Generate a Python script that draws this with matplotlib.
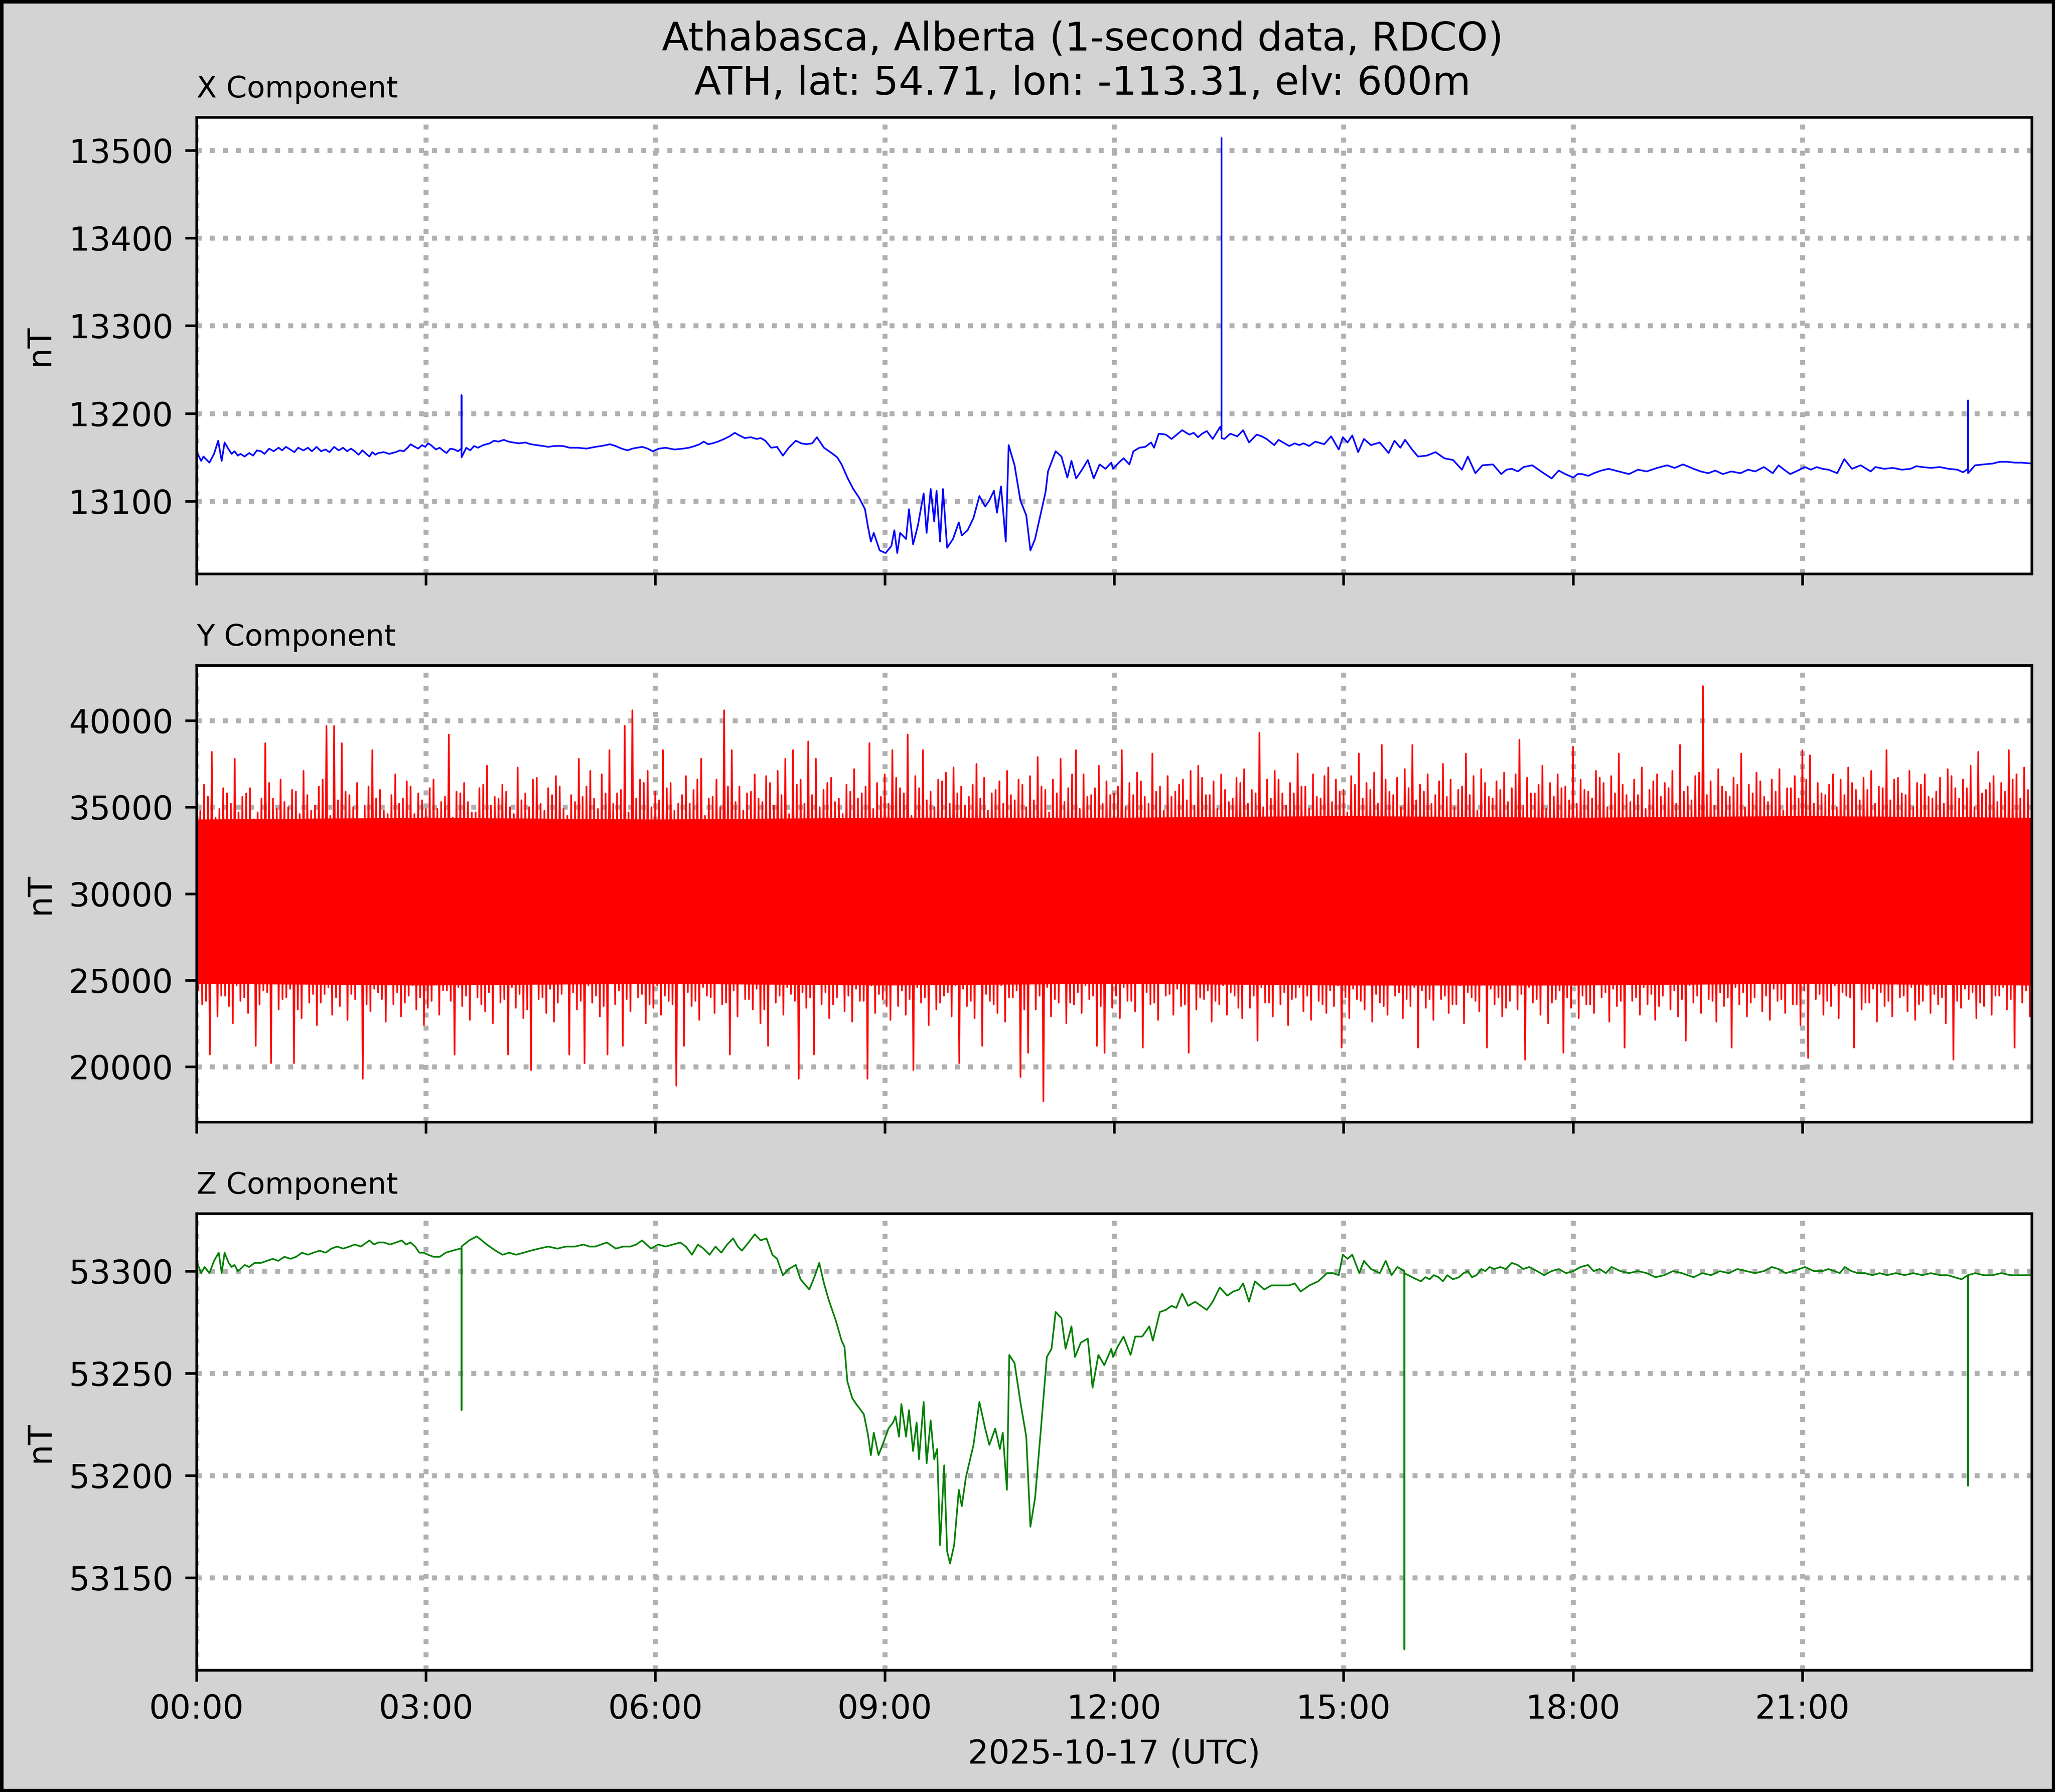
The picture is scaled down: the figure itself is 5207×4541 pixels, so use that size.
import numpy as np
import matplotlib
matplotlib.use("Agg")
import matplotlib.pyplot as plt
import matplotlib.dates as mdates

DATE = "2025-10-17"
TITLE_1 = "Athabasca, Alberta (1-second data, RDCO)"
TITLE_2 = "ATH, lat: 54.71, lon: -113.31, elv: 600m"
PANEL_TITLES = ["X Component", "Y Component", "Z Component"]
X_LABEL = DATE + " (UTC)"
Y_LABEL = "nT"

# ---------------- X component: (hour UTC, nT) ----------------
x_points = [
    (0.000, 13157), (0.061, 13146), (0.092, 13151), (0.169, 13144), (0.230, 13154),
    (0.284, 13169), (0.330, 13146), (0.368, 13167), (0.422, 13159), (0.460, 13154),
    (0.498, 13157), (0.540, 13152), (0.575, 13154), (0.630, 13151), (0.690, 13155),
    (0.740, 13152), (0.790, 13158), (0.844, 13157), (0.890, 13154), (0.950, 13160),
    (1.010, 13157), (1.074, 13161), (1.120, 13158), (1.170, 13162), (1.227, 13159),
    (1.280, 13156), (1.330, 13161), (1.400, 13158), (1.457, 13161), (1.510, 13157),
    (1.570, 13162), (1.630, 13157), (1.687, 13159), (1.740, 13156), (1.800, 13162),
    (1.860, 13158), (1.917, 13161), (1.970, 13157), (2.020, 13160), (2.071, 13157),
    (2.120, 13153), (2.170, 13158), (2.220, 13154), (2.262, 13151), (2.300, 13156),
    (2.340, 13153), (2.377, 13155), (2.450, 13156), (2.520, 13154), (2.607, 13156),
    (2.660, 13158), (2.710, 13157), (2.761, 13161), (2.800, 13165), (2.837, 13163),
    (2.900, 13160), (2.950, 13164), (2.991, 13162), (3.030, 13166), (3.067, 13164),
    (3.130, 13159), (3.180, 13161), (3.221, 13158), (3.270, 13155), (3.320, 13160),
    (3.374, 13159), (3.420, 13157), (3.4655, 13160), (3.466, 13221), (3.4665, 13150),
    (3.528, 13161), (3.580, 13158), (3.630, 13163), (3.681, 13161), (3.750, 13164),
    (3.834, 13166), (3.890, 13169), (3.949, 13168), (4.020, 13170), (4.080, 13168),
    (4.141, 13167), (4.220, 13166), (4.300, 13167), (4.371, 13165), (4.450, 13164),
    (4.530, 13163), (4.601, 13162), (4.680, 13163), (4.793, 13163), (4.880, 13161),
    (4.985, 13161), (5.100, 13160), (5.215, 13162), (5.300, 13163), (5.406, 13165),
    (5.480, 13163), (5.560, 13160), (5.637, 13158), (5.700, 13160), (5.828, 13162),
    (5.900, 13160), (5.966, 13157), (6.050, 13160), (6.135, 13161), (6.250, 13159),
    (6.365, 13160), (6.440, 13161), (6.518, 13163), (6.580, 13165), (6.633, 13168),
    (6.690, 13165), (6.748, 13166), (6.820, 13168), (6.902, 13171), (6.970, 13174),
    (7.040, 13178), (7.100, 13175), (7.170, 13172), (7.250, 13173), (7.324, 13171),
    (7.380, 13172), (7.439, 13169), (7.515, 13161), (7.592, 13162), (7.669, 13152),
    (7.745, 13161), (7.837, 13169), (7.910, 13166), (7.975, 13165), (8.052, 13166),
    (8.113, 13173), (8.206, 13161), (8.321, 13154), (8.380, 13150), (8.436, 13142),
    (8.512, 13127), (8.589, 13114), (8.666, 13104), (8.742, 13091), (8.781, 13071),
    (8.819, 13054), (8.857, 13064), (8.934, 13044), (9.011, 13041), (9.087, 13049),
    (9.126, 13067), (9.164, 13041), (9.202, 13064), (9.279, 13057), (9.317, 13091),
    (9.371, 13051), (9.433, 13072), (9.509, 13109), (9.548, 13064), (9.601, 13114),
    (9.647, 13077), (9.678, 13112), (9.724, 13054), (9.762, 13114), (9.816, 13047),
    (9.893, 13057), (9.969, 13076), (10.008, 13061), (10.084, 13067), (10.161, 13081),
    (10.238, 13106), (10.314, 13094), (10.368, 13101), (10.429, 13112), (10.468, 13087),
    (10.521, 13117), (10.583, 13054), (10.621, 13164), (10.698, 13141), (10.774, 13101),
    (10.851, 13084), (10.905, 13044), (10.966, 13057), (11.043, 13087), (11.104, 13111),
    (11.135, 13134), (11.235, 13157), (11.311, 13151), (11.388, 13127), (11.442, 13146),
    (11.503, 13126), (11.580, 13136), (11.656, 13147), (11.733, 13126), (11.810, 13142),
    (11.887, 13137), (11.963, 13144),
    (11.985, 13137), (12.062, 13144), (12.123, 13149), (12.200, 13142), (12.253, 13157),
    (12.330, 13161), (12.407, 13162), (12.483, 13167), (12.522, 13161), (12.583, 13177),
    (12.675, 13176), (12.752, 13171), (12.820, 13176), (12.890, 13181), (12.982, 13176),
    (13.040, 13178), (13.097, 13173), (13.150, 13177), (13.212, 13180), (13.289, 13171),
    (13.388, 13185), (13.4035, 13180), (13.404, 13514), (13.4045, 13172), (13.442, 13171),
    (13.519, 13177), (13.611, 13174), (13.687, 13181), (13.764, 13167), (13.864, 13176),
    (13.930, 13174), (13.994, 13171), (14.094, 13164), (14.150, 13170), (14.209, 13167),
    (14.290, 13163), (14.362, 13166), (14.420, 13164), (14.477, 13166), (14.550, 13163),
    (14.631, 13168), (14.746, 13165), (14.838, 13174), (14.937, 13159), (14.991, 13173),
    (15.052, 13167), (15.114, 13175), (15.191, 13156), (15.267, 13171), (15.359, 13164),
    (15.474, 13167), (15.589, 13155), (15.666, 13169), (15.743, 13161), (15.804, 13170),
    (15.896, 13159), (15.973, 13151), (16.088, 13152), (16.203, 13156), (16.318, 13149),
    (16.433, 13147), (16.548, 13136), (16.625, 13151), (16.724, 13132), (16.816, 13141),
    (16.954, 13142), (17.062, 13131), (17.130, 13136), (17.200, 13137), (17.280, 13134),
    (17.353, 13139), (17.468, 13141), (17.583, 13134), (17.721, 13126), (17.813, 13135),
    (17.900, 13131), (18.005, 13127), (18.060, 13131), (18.120, 13131), (18.200, 13129),
    (18.273, 13132), (18.370, 13135), (18.465, 13137), (18.600, 13134), (18.733, 13131),
    (18.850, 13136), (18.963, 13134), (19.100, 13138), (19.232, 13141), (19.330, 13138),
    (19.439, 13142), (19.577, 13137), (19.670, 13134), (19.769, 13132), (19.860, 13135),
    (19.960, 13131), (20.070, 13134), (20.190, 13132), (20.290, 13136), (20.382, 13134),
    (20.497, 13139), (20.612, 13132), (20.689, 13141), (20.760, 13136), (20.842, 13131),
    (20.940, 13135), (21.034, 13139), (21.110, 13136), (21.188, 13139), (21.260, 13137),
    (21.341, 13136), (21.456, 13132), (21.548, 13148), (21.648, 13137), (21.763, 13141),
    (21.893, 13134), (21.954, 13139), (22.070, 13137), (22.185, 13138), (22.300, 13136),
    (22.415, 13137), (22.490, 13140), (22.568, 13139), (22.680, 13138), (22.798, 13139),
    (22.910, 13137), (23.028, 13136), (23.100, 13133), (23.1655, 13137), (23.166, 13215),
    (23.1665, 13132), (23.258, 13141), (23.370, 13142), (23.488, 13143), (23.580, 13145),
    (23.680, 13145), (23.780, 13144), (23.871, 13144), (23.994, 13143),
]

# ---------------- Z component: (hour UTC, nT) ----------------
z_points = [
    (0.000, 53305), (0.061, 53299), (0.107, 53302), (0.169, 53299), (0.230, 53305),
    (0.291, 53309), (0.330, 53299), (0.368, 53309), (0.422, 53304), (0.460, 53302),
    (0.498, 53303), (0.540, 53300), (0.575, 53301), (0.630, 53303), (0.690, 53302),
    (0.760, 53304), (0.844, 53304), (0.920, 53305), (0.997, 53306), (1.070, 53305),
    (1.150, 53307), (1.230, 53306), (1.304, 53307), (1.380, 53309), (1.457, 53308),
    (1.530, 53309), (1.610, 53310), (1.690, 53309), (1.764, 53311), (1.840, 53312),
    (1.917, 53311), (2.000, 53312), (2.071, 53313), (2.150, 53312), (2.262, 53315),
    (2.320, 53313), (2.377, 53314), (2.450, 53314), (2.531, 53313), (2.610, 53314),
    (2.684, 53315), (2.740, 53313), (2.799, 53314), (2.860, 53312), (2.914, 53309),
    (2.970, 53309), (3.029, 53308), (3.100, 53307), (3.183, 53307), (3.259, 53309),
    (3.350, 53310), (3.451, 53311), (3.4655, 53311), (3.466, 53232), (3.4665, 53312),
    (3.566, 53315), (3.666, 53317), (3.796, 53313), (3.911, 53310), (4.003, 53308),
    (4.090, 53309), (4.179, 53308), (4.280, 53309), (4.371, 53310), (4.480, 53311),
    (4.601, 53312), (4.720, 53311), (4.831, 53312), (4.950, 53312), (5.061, 53313),
    (5.140, 53312), (5.215, 53312), (5.290, 53313), (5.368, 53314), (5.483, 53311),
    (5.580, 53312), (5.675, 53312), (5.750, 53313), (5.828, 53315), (5.943, 53311),
    (6.040, 53313), (6.135, 53312), (6.230, 53313), (6.327, 53314), (6.400, 53312),
    (6.480, 53308), (6.557, 53313), (6.630, 53311), (6.710, 53308), (6.787, 53312),
    (6.863, 53309), (6.940, 53313), (7.017, 53316), (7.080, 53312), (7.132, 53310),
    (7.220, 53314), (7.301, 53318), (7.377, 53315), (7.454, 53316), (7.531, 53308),
    (7.592, 53306), (7.669, 53298), (7.745, 53301), (7.837, 53303), (7.899, 53296),
    (8.014, 53291), (8.090, 53298), (8.144, 53304), (8.206, 53294), (8.267, 53286),
    (8.359, 53276), (8.436, 53266), (8.474, 53263), (8.512, 53246), (8.574, 53238),
    (8.627, 53235), (8.727, 53230), (8.781, 53220), (8.819, 53210), (8.857, 53221),
    (8.919, 53210), (8.972, 53215), (9.049, 53223), (9.110, 53226), (9.141, 53229),
    (9.187, 53219), (9.218, 53235), (9.279, 53219), (9.317, 53232), (9.371, 53212),
    (9.417, 53226), (9.448, 53208), (9.509, 53236), (9.548, 53206), (9.601, 53227),
    (9.647, 53208), (9.686, 53213), (9.724, 53166), (9.778, 53205), (9.816, 53163),
    (9.854, 53157), (9.908, 53166), (9.969, 53193), (10.008, 53185), (10.061, 53199),
    (10.161, 53215), (10.238, 53236), (10.314, 53223), (10.368, 53215), (10.445, 53223),
    (10.506, 53213), (10.544, 53221), (10.598, 53193), (10.629, 53259), (10.698, 53255),
    (10.774, 53236), (10.851, 53219), (10.905, 53175), (10.966, 53189), (11.043, 53223),
    (11.120, 53258), (11.181, 53262), (11.235, 53280), (11.311, 53277), (11.365, 53262),
    (11.442, 53273), (11.488, 53258), (11.564, 53265), (11.656, 53267), (11.718, 53243),
    (11.794, 53259), (11.871, 53254), (11.963, 53262),
    (11.985, 53258), (12.046, 53263), (12.123, 53268), (12.215, 53259), (12.276, 53268),
    (12.368, 53268), (12.460, 53273), (12.506, 53266), (12.598, 53280), (12.675, 53281),
    (12.752, 53283), (12.813, 53282), (12.890, 53289), (12.967, 53283), (13.059, 53285),
    (13.135, 53283), (13.212, 53281), (13.289, 53285), (13.381, 53292), (13.480, 53288),
    (13.557, 53290), (13.634, 53291), (13.687, 53294), (13.764, 53285), (13.841, 53295),
    (13.964, 53291), (14.056, 53293), (14.171, 53293), (14.286, 53293), (14.362, 53294),
    (14.439, 53290), (14.554, 53293), (14.669, 53295), (14.784, 53299), (14.861, 53299),
    (14.937, 53298), (14.991, 53308), (15.052, 53306), (15.114, 53308), (15.206, 53299),
    (15.267, 53305), (15.359, 53301), (15.474, 53299), (15.551, 53305), (15.628, 53298),
    (15.704, 53302), (15.7955, 53300), (15.796, 53115), (15.7965, 53299), (15.896, 53297),
    (16.011, 53295), (16.070, 53297), (16.126, 53296), (16.180, 53298), (16.241, 53297),
    (16.300, 53295), (16.356, 53298), (16.430, 53296), (16.509, 53297), (16.570, 53299),
    (16.625, 53300), (16.680, 53297), (16.739, 53298), (16.800, 53301), (16.855, 53300),
    (16.910, 53302), (16.970, 53301), (17.050, 53302), (17.123, 53301), (17.200, 53304),
    (17.276, 53303), (17.350, 53301), (17.430, 53302), (17.530, 53300), (17.621, 53298),
    (17.720, 53300), (17.813, 53301), (17.910, 53299), (18.005, 53300), (18.100, 53302),
    (18.197, 53303), (18.270, 53300), (18.350, 53301), (18.430, 53299), (18.503, 53302),
    (18.620, 53300), (18.733, 53299), (18.850, 53300), (18.963, 53299), (19.080, 53297),
    (19.193, 53298), (19.310, 53300), (19.424, 53299), (19.500, 53298), (19.577, 53297),
    (19.690, 53299), (19.807, 53298), (19.920, 53300), (20.037, 53299), (20.150, 53301),
    (20.267, 53300), (20.380, 53299), (20.497, 53300), (20.600, 53302), (20.689, 53301),
    (20.780, 53299), (20.881, 53300), (20.960, 53301), (21.034, 53302), (21.150, 53300),
    (21.264, 53300), (21.340, 53301), (21.418, 53300), (21.490, 53299), (21.555, 53302),
    (21.640, 53300), (21.724, 53299), (21.820, 53299), (21.916, 53298), (22.010, 53299),
    (22.108, 53298), (22.220, 53299), (22.338, 53298), (22.450, 53299), (22.568, 53298),
    (22.680, 53299), (22.798, 53298), (22.900, 53298), (22.990, 53297), (23.080, 53296),
    (23.1655, 53298), (23.166, 53195), (23.1665, 53298), (23.258, 53299), (23.370, 53298),
    (23.488, 53298), (23.600, 53299), (23.718, 53298), (23.850, 53298), (23.994, 53298),
]

# ---------------- Y component (very noisy) ----------------
# solid core of the trace (hour UTC, nT)
y_core_hours = [0, 3, 6, 9, 12, 15, 18, 21, 24]
y_core_low = [24800, 24700, 24800, 24700, 24800, 24700, 24700, 24800, 24700]
y_core_high = [34300, 34400, 34300, 34400, 34400, 34500, 34400, 34500, 34400]
# strongest upper / lower excursions, one per 6-minute slot, in hundreds of nT
y_upper_hnT = [
    352, 363, 382, 349, 358, 378, 356, 361, 347, 387, 355, 366, 350, 359, 371, 348, 362, 397, 397, 387,
    357, 364, 351, 383, 360, 346, 369, 355, 362, 358, 349, 366, 353, 392, 359, 364, 347, 361, 374, 356,
    363, 350, 373, 358, 366, 352, 361, 368, 349, 357, 378, 362, 355, 369, 383, 358, 397, 406, 366, 371,
    359, 383, 364, 352, 368, 360, 378, 355, 366, 406, 383, 362, 358, 369, 353, 364, 371, 378, 383, 366,
    388, 378, 360, 367, 355, 363, 372, 358, 387, 364, 369, 383, 361, 392, 368, 383, 359, 366, 370, 373,
    362, 356, 375, 367, 358, 365, 371, 354, 363, 368, 379, 360, 366, 378, 361, 383, 369, 357, 374, 365,
    358, 383, 364, 370, 356, 381, 362, 368, 359, 366, 371, 374, 357, 365, 369, 353, 367, 372, 360, 393,
    366, 371, 358, 364, 381, 362, 369, 355, 373, 366, 360, 368, 381, 364, 370, 386, 359, 367, 372, 386,
    363, 369, 357, 375, 366, 360, 381, 368, 372, 356, 365, 370, 361, 389, 367, 358, 374, 364, 369, 362,
    385, 366, 359, 371, 364, 368, 381, 357, 366, 373, 360, 369, 364, 371, 386, 362, 368, 420, 365, 372,
    359, 367, 381, 363, 370, 356, 366, 372, 361, 368, 383, 380, 364, 357, 369, 366, 373, 360, 367, 371,
    362, 383, 366, 358, 371, 364, 369, 355, 367, 372, 361, 366, 374, 382, 360, 368, 364, 383, 369, 373,
]
y_lower_hnT = [
    236, 207, 229, 241, 225, 238, 231, 212, 244, 202, 233, 240, 202, 228, 237, 224, 242, 230, 235, 227,
    239, 193, 232, 243, 226, 236, 229, 241, 233, 224, 238, 230, 244, 207, 235, 227, 240, 232, 225, 237,
    207, 234, 228, 198, 239, 231, 226, 242, 207, 233, 202, 237, 229, 207, 236, 212, 232, 240, 225, 234,
    230, 238, 189, 212, 235, 227, 241, 231, 236, 207, 229, 239, 233, 225, 212, 237, 230, 242, 193, 234,
    207, 236, 228, 240, 232, 226, 238, 193, 231, 239, 227, 235, 230, 198, 237, 224, 233, 241, 229, 202,
    235, 228, 212, 238, 231, 226, 240, 194, 208, 233, 180, 229, 237, 225, 236, 231, 239, 212, 208, 234,
    228, 238, 232, 211, 236, 227, 241, 230, 235, 208, 233, 239, 226, 236, 230, 241, 228, 234, 215, 237,
    229, 236, 224, 240, 232, 227, 238, 231, 235, 211, 228, 239, 233, 226, 237, 230, 241, 228, 235, 211,
    234, 227, 239, 231, 236, 225, 240, 232, 211, 236, 229, 238, 233, 204, 237, 230, 225, 239, 208, 234,
    228, 236, 231, 240, 226, 235, 211, 238, 230, 236, 227, 241, 233, 229, 215, 237, 231, 239, 226, 235,
    211, 236, 229, 240, 232, 227, 238, 231, 236, 224, 205, 239, 230, 235, 228, 241, 211, 233, 237, 226,
    235, 229, 240, 232, 227, 238, 231, 236, 225, 204, 234, 239, 228, 235, 230, 241, 233, 211, 237, 229,
]
# moderate excursions between them (offset by 3 minutes), hundreds of nT
y_upper2_hnT = [
    348, 356, 344, 361, 352, 347, 358, 343, 355, 364, 349, 353, 360, 346, 357, 351, 366, 345, 354, 359,
    350, 343, 362, 355, 348, 357, 352, 365, 346, 354, 361, 349, 356, 344, 358, 353, 347, 363, 351, 355,
    359, 346, 354, 350, 367, 348, 357, 362, 345, 353, 356, 371, 349, 358, 352, 360, 347, 355, 364, 350,
    354, 361, 348, 357, 352, 366, 345, 356, 350, 362, 353, 348, 359, 355, 368, 351, 357, 346, 363, 352,
    357, 350, 364, 353, 346, 359, 355, 362, 349, 356, 352, 367, 358, 345, 361, 354, 350, 365, 352, 358,
    351, 363, 355, 348, 360, 352, 357, 366, 350, 354, 362, 347, 358, 353, 369, 349, 356, 361, 352, 357,
    362, 350, 357, 365, 352, 359, 348, 356, 363, 354, 351, 367, 357, 349, 360, 355, 364, 352, 358, 350,
    355, 366, 351, 358, 362, 349, 356, 368, 353, 359, 347, 363, 355, 360, 352, 366, 357, 350, 361, 354,
    359, 352, 365, 356, 350, 362, 357, 348, 364, 355, 360, 353, 369, 351, 358, 363, 349, 356, 361, 354,
    352, 360, 355, 367, 350, 358, 363, 353, 357, 349, 365, 356, 361, 352, 359, 354, 370, 357, 351, 362,
    356, 363, 350, 358, 365, 353, 359, 348, 361, 355, 366, 352, 358, 363, 350, 357, 364, 354, 360, 352,
    361, 354, 367, 357, 350, 363, 356, 359, 352, 368, 355, 361, 350, 358, 364, 353, 359, 366, 355, 360,
]
y_lower2_hnT = [
    244, 238, 249, 241, 235, 247, 240, 252, 236, 243, 248, 239, 245, 233, 250, 242, 237, 246, 240, 251,
    242, 248, 236, 245, 239, 251, 243, 237, 247, 240, 234, 249, 244, 238, 246, 241, 252, 236, 243, 248,
    239, 246, 242, 233, 249, 240, 245, 237, 251, 243, 238, 247, 241, 235, 248, 244, 239, 250, 242, 236,
    247, 241, 236, 249, 243, 238, 246, 240, 252, 237, 244, 248, 239, 245, 233, 250, 241, 246, 238, 243,
    240, 248, 243, 236, 250, 241, 245, 238, 247, 242, 235, 249, 244, 239, 246, 240, 251, 237, 243, 247,
    245, 238, 249, 242, 236, 247, 240, 244, 233, 248, 241, 246, 239, 250, 237, 243, 247, 241, 235, 249,
    241, 246, 238, 250, 243, 237, 248, 242, 245, 236, 249, 240, 244, 238, 247, 243, 234, 250, 241, 246,
    237, 248, 243, 239, 246, 241, 251, 236, 244, 247, 240, 245, 238, 249, 242, 235, 248, 243, 239, 246,
    244, 239, 250, 241, 236, 247, 243, 238, 249, 245, 240, 234, 248, 242, 246, 239, 251, 237, 244, 240,
    247, 241, 236, 249, 243, 245, 238, 250, 240, 246, 242, 235, 248, 244, 239, 247, 241, 252, 238, 243,
    240, 246, 243, 237, 250, 241, 245, 239, 248, 236, 244, 249, 242, 238, 247, 243, 240, 251, 237, 245,
    243, 238, 249, 241, 246, 236, 247, 242, 240, 250, 238, 245, 243, 237, 248, 241, 246, 239, 252, 244,
]
Y_SLOT_HOURS = 0.1


def to_time(hours):
    h = np.asarray(hours, dtype=float)
    return np.datetime64(DATE + "T00:00:00") + np.round(h * 3600000.0).astype("timedelta64[ms]")


x_hours, x_nT = map(list, zip(*x_points))
z_hours, z_nT = map(list, zip(*z_points))

# interleave the excursions in time order: up, down, up, down ...
y_hours = []
y_nT = []
for k in range(len(y_upper_hnT)):
    t0 = k * Y_SLOT_HOURS
    for frac, val in ((0.0, y_upper_hnT[k]), (0.25, y_lower2_hnT[k]),
                      (0.5, y_upper2_hnT[k]), (0.75, y_lower_hnT[k])):
        y_hours.append(t0 + frac * Y_SLOT_HOURS)
        y_nT.append(val * 100)

W, H, DPI = 5207, 4541, 600
fig = plt.figure(figsize=(W / DPI + 0.00001, H / DPI + 0.00001), dpi=DPI,
                 facecolor="lightgray", edgecolor="black", linewidth=2.0)
axes = fig.subplots(3, 1, sharex=True)
fig.subplots_adjust(left=0.0956, right=0.9887, top=0.9346, bottom=0.0680, hspace=0.2005)

axes[0].plot(to_time(x_hours), x_nT, color="blue", linewidth=0.5)

axes[1].fill_between(to_time(y_core_hours), y_core_low, y_core_high,
                     color="red", linewidth=0, zorder=2)
axes[1].plot(to_time(y_hours), y_nT, color="red", linewidth=0.5, zorder=2)

axes[2].plot(to_time(z_hours), z_nT, color="green", linewidth=0.5)

for ax, name in zip(axes, PANEL_TITLES):
    ax.set_facecolor("white")
    ax.grid(True, linestyle=":", linewidth=1.5, color="#b0b0b0")
    ax.set_ylabel(Y_LABEL, fontsize=10)
    ax.set_title(name, loc="left", fontsize=9)
    ax.tick_params(labelsize=10)

axes[-1].xaxis.set_major_locator(mdates.HourLocator(byhour=range(0, 24, 3)))
axes[-1].xaxis.set_major_formatter(mdates.DateFormatter("%H:%M"))
axes[-1].set_xlim(to_time([0.0])[0], to_time([24.0 - 1.0 / 3600.0])[0])
axes[-1].set_xlabel(X_LABEL, fontsize=10)

fig.text(0.5268, 1 - 52 / H, TITLE_1 + "\n" + TITLE_2, ha="center", va="top",
         fontsize=12)

fig.savefig("out.png", dpi=DPI, facecolor=fig.get_facecolor(), edgecolor="black")
